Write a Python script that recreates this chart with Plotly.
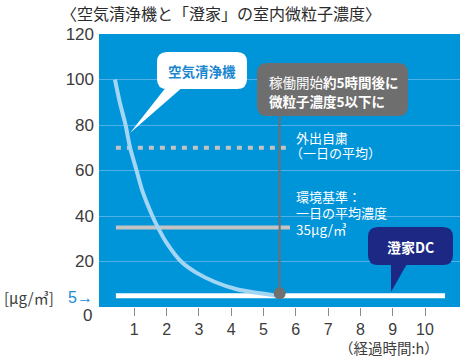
import plotly.graph_objects as go

# ---------------- data ----------------
hours_ticks = [1, 2, 3, 4, 5, 6, 7, 8, 9, 10]
y_ticks = [20, 40, 60, 80, 100, 120]

# air purifier curve
purifier_x = [0.4, 0.55, 0.73, 0.87, 1.07, 1.25, 1.56, 1.73, 2.0, 2.45, 2.93, 3.5, 4.17, 4.89, 5.4]
purifier_y = [100, 90, 80, 70, 60, 51, 40, 35, 28.2, 20, 15.0, 11.0, 7.8, 6.0, 5]

# reference levels
outing_x = [0.43, 5.82]
outing_y = [70, 70]
standard_x = [0.43, 5.82]
standard_y = [35, 35]
sumika_x = [0.43, 10.62]
sumika_y = [5, 5]

# point where purifier reaches 5
reach_x = [5.5]
reach_y = [6]

# ---------------- layout helpers (pixel -> coords for decorations) ----------------
W, H = 464, 357
ML, MR, MT, MB = 99, 4, 34, 50
X0_PX, XS = 102.0, 32.3
XMIN = (ML - X0_PX) / XS
XMAX = (W - MR - X0_PX) / XS
YMIN, YMAX = 0, 120
PW = W - ML - MR
PH = H - MT - MB


def dx(px):
    return XMIN + (px - ML) / PW * (XMAX - XMIN)


def dy(py):
    return YMIN + (H - MB - py) / PH * (YMAX - YMIN)


def fx(px):
    return (px - ML) / PW


def fy(py):
    return (H - MB - py) / PH


def rrect(x0, y0, x1, y1, r):
    pts = [
        f"M {dx(x0 + r)},{dy(y0)}",
        f"L {dx(x1 - r)},{dy(y0)}",
        f"Q {dx(x1)},{dy(y0)} {dx(x1)},{dy(y0 + r)}",
        f"L {dx(x1)},{dy(y1 - r)}",
        f"Q {dx(x1)},{dy(y1)} {dx(x1 - r)},{dy(y1)}",
        f"L {dx(x0 + r)},{dy(y1)}",
        f"Q {dx(x0)},{dy(y1)} {dx(x0)},{dy(y1 - r)}",
        f"L {dx(x0)},{dy(y0 + r)}",
        f"Q {dx(x0)},{dy(y0)} {dx(x0 + r)},{dy(y0)}",
        "Z",
    ]
    return " ".join(pts)


def tri(p1, p2, p3):
    return (f"M {dx(p1[0])},{dy(p1[1])} L {dx(p2[0])},{dy(p2[1])} "
            f"L {dx(p3[0])},{dy(p3[1])} Z")


BLUE = "#0094d9"
GRID = "#4eb0e6"
CJK = "Noto Sans CJK JP"
NUM = "Liberation Sans, Arial, sans-serif"

fig = go.Figure()

fig.add_trace(go.Scatter(x=outing_x, y=outing_y, mode="lines",
                         line=dict(color="#c3c3c3", width=4, dash="5px,6px"),
                         hoverinfo="skip"))
fig.add_trace(go.Scatter(x=standard_x, y=standard_y, mode="lines",
                         line=dict(color="#c3c3c3", width=4), hoverinfo="skip"))
fig.add_trace(go.Scatter(x=sumika_x, y=sumika_y, mode="lines",
                         line=dict(color="#ffffff", width=5), hoverinfo="skip"))
fig.add_trace(go.Scatter(x=purifier_x, y=purifier_y, mode="lines",
                         line=dict(color="#a3d6f5", width=4, shape="spline", smoothing=0.6),
                         hoverinfo="skip"))

shapes = []
# leader line from point to gray box
shapes.append(dict(type="line", xref="x", yref="y",
                   x0=reach_x[0], x1=reach_x[0], y0=reach_y[0], y1=dy(116),
                   line=dict(color="#707070", width=2)))
# gray callout box
shapes.append(dict(type="path", xref="x", yref="y", path=rrect(257, 63, 408, 116, 10),
                   fillcolor="#6e6e6e", line=dict(width=0)))
# white callout
shapes.append(dict(type="path", xref="x", yref="y", path=rrect(157, 52, 247, 89, 10),
                   fillcolor="#ffffff", line=dict(width=0)))
shapes.append(dict(type="path", xref="x", yref="y", path=tri((167, 86), (184, 86), (130, 133)),
                   fillcolor="#ffffff", line=dict(width=0)))
# navy callout
shapes.append(dict(type="path", xref="x", yref="y", path=rrect(368, 227, 453, 265, 10),
                   fillcolor="#1c2884", line=dict(width=0)))
shapes.append(dict(type="path", xref="x", yref="y", path=tri((391, 262), (408, 262), (391, 292)),
                   fillcolor="#1c2884", line=dict(width=0)))

fig.add_trace(go.Scatter(x=reach_x, y=reach_y, mode="markers",
                         marker=dict(color="#707070", size=12), hoverinfo="skip"))

ann = []


def text(px, py, s, size, color, family=CJK, anchor="left"):
    ann.append(dict(x=fx(px), y=fy(py), xref="paper", yref="paper", text=s, showarrow=False,
                    xanchor=anchor, yanchor="middle", align="left", borderpad=0,
                    font=dict(size=size, color=color, family=family)))


text(202, 71, "<b>空気清浄機</b>", 13.5, "#1a86d0", anchor="center")
text(268, 82, "稼働開始<b>約5時間後に</b>", 13.5, "#ffffff")
text(268, 101, "<b>微粒子濃度5以下に</b>", 13.5, "#ffffff")
text(410, 247, "<b>澄家DC</b>", 14, "#ffffff", anchor="center")
text(295, 137, "外出自粛", 13, "#ffffff")
text(289, 152, "（一日の平均）", 13, "#ffffff")
text(295, 196, "環境基準：", 13, "#ffffff")
text(295, 212.5, "一日の平均濃度", 13, "#ffffff")
text(295, 228.5, "35μg/㎥", 13.5, "#ffffff")

# outside labels
text(93, 315, "0", 17, "#3c3c3c", family=NUM, anchor="right")
text(3, 297, "[μg/㎥]", 15, "#3c3c3c")
text(67, 297, "5→", 16, "#1a8ad6", family=NUM)
text(440, 347, "（経過時間:h）", 14.5, "#3c3c3c", anchor="right")
text(60, 13, "〈空気清浄機と「澄家」の室内微粒子濃度〉", 16, "#2b2b2b")

fig.update_layout(
    width=W, height=H,
    margin=dict(l=ML, r=MR, t=MT, b=MB),
    paper_bgcolor="#ffffff",
    plot_bgcolor=BLUE,
    showlegend=False,
    shapes=shapes,
    annotations=ann,
    xaxis=dict(range=[XMIN, XMAX], tickvals=hours_ticks, ticktext=[str(v) for v in hours_ticks],
               showgrid=False, zeroline=False, showline=False, automargin=False,
               ticks="outside", ticklen=8, tickcolor="#8a8a8a", tickwidth=1,
               tickfont=dict(size=16, color="#3c3c3c", family=NUM), fixedrange=True),
    yaxis=dict(range=[YMIN, YMAX], tickvals=y_ticks, ticktext=[str(v) for v in y_ticks],
               showgrid=True, gridcolor=GRID, gridwidth=1, zeroline=False, showline=False,
               ticks="", ticklabelstandoff=4, automargin=False,
               tickfont=dict(size=17, color="#3c3c3c", family=NUM), fixedrange=True),
)

fig.write_html("out.html", config={"displayModeBar": False},
               post_script="document.body.style.margin='0';document.body.style.overflow='hidden';")
